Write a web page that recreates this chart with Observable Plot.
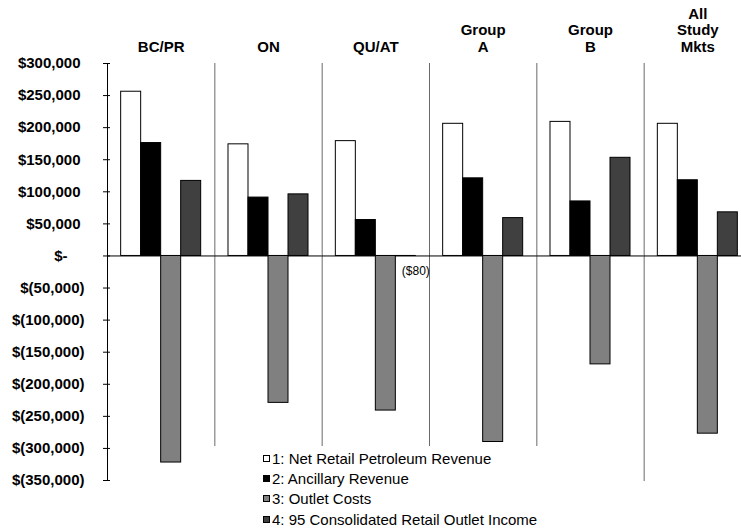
<!DOCTYPE html>
<html>
<head>
<meta charset="utf-8">
<script src="https://cdn.jsdelivr.net/npm/d3@7"></script>
<script src="https://cdn.jsdelivr.net/npm/@observablehq/plot@0.6"></script>
<style>
  body { margin: 0; background: #fff; }
  #chart { position: relative; width: 741px; height: 529px; overflow: hidden;
           font-family: "Liberation Sans", Arial, sans-serif; }
  #legend { position: absolute; left: 205px; top: 446px; width: 433px; height: 83px;
            background: #fff; padding-top: 2px; box-sizing: border-box; }
  .item { display: flex; align-items: center; height: 20.4px; padding-left: 58px;
          font-size: 15px; color: #000; white-space: nowrap; }
  .swatch { width: 5px; height: 5px; border: 1px solid #000; margin-right: 2px; flex: none; }
</style>
</head>
<body>
<div id="chart"></div>
<script>
// Market groups across the top (line breaks as printed)
const groups = ["BC/PR", "ON", "QU/AT", "Group\nA", "Group\nB", "All\nStudy\nMkts"];

// The four components per market
const series = [
  "1: Net Retail Petroleum Revenue",
  "2: Ancillary Revenue",
  "3: Outlet Costs",
  "4: 95 Consolidated Retail Outlet Income"
];
const seriesColors = ["#ffffff", "#000000", "#808080", "#404040"];

// Dollars per outlet, one value per group
const netPetroleumRevenue = [256000, 174000, 179000, 206000, 209000, 206000];
const ancillaryRevenue    = [176000,  91000,  56000, 121000,  85000, 118000];
const outletCosts         = [-322000, -229000, -241000, -290000, -169000, -277000];
const outletIncome        = [117000,  96000,    -80,  59000, 153000,  68000];

// Value axis ticks
const yTicks = [-350000, -300000, -250000, -200000, -150000, -100000, -50000,
                0, 50000, 100000, 150000, 200000, 250000, 300000];

const seriesValues = [netPetroleumRevenue, ancillaryRevenue, outletCosts, outletIncome];
const table = groups.flatMap((g, i) =>
  series.map((s, j) => ({group: g, series: s, value: seriesValues[j][i]})));

const num = d3.format(",");
// Accounting-style dollar formats
const axisFmt = v => v === 0 ? "$-" : v < 0 ? `$(${num(-v)})` : `$${num(v)}`;
const labelFmt = v => v < 0 ? `($${num(-v)})` : `$${num(v)}`;

const tickText = {tickSize: 0, tickPadding: 0, tickFormat: axisFmt, fontSize: 15,
                  fontWeight: "bold", label: null};

const plot = Plot.plot({
  width: 741,
  height: 529,
  marginTop: 63,
  marginBottom: 49,
  marginLeft: 107,
  marginRight: -10,
  style: {fontFamily: "'Liberation Sans', Arial, sans-serif", background: "white", color: "black"},
  fx: {domain: groups, padding: 0, round: false},
  x: {domain: series, paddingInner: 0, paddingOuter: 0.683, round: false, axis: null},
  y: {domain: [-350000, 300000]},
  color: {domain: series, range: seriesColors},
  marks: [
    // group dividers
    Plot.frame({anchor: "left", stroke: "#6a6a6a"}),
    Plot.ruleY([0], {stroke: "black"}),
    Plot.barY(table, {fx: "group", x: "series", y: "value", fill: "series",
                      stroke: "black", strokeWidth: 1}),
    // value label for the near-zero bar
    Plot.text(table.filter(d => Math.abs(d.value) < 1000), {
      fx: "group", x: "series", y: "value", text: d => labelFmt(d.value),
      dx: 10, dy: 15, fontSize: 12, fill: "black"
    }),
    // value axis line and crossing ticks
    Plot.frame({anchor: "left", facetAnchor: "left", stroke: "black"}),
    Plot.axisY(yTicks, {tickSize: 7, dx: 3, fill: "none", stroke: "black", label: null}),
    Plot.axisY(yTicks.filter(v => v > 0), {...tickText, dx: -27}),
    Plot.axisY(yTicks.filter(v => v === 0), {...tickText, dx: -40}),
    Plot.axisY(yTicks.filter(v => v < 0), {...tickText, dx: -23}),
    Plot.axisFx({anchor: "top", tickSize: 0, tickPadding: 12, fontSize: 15,
                 fontWeight: "bold", lineHeight: 1.07, label: null})
  ]
});

const chart = document.getElementById("chart");
chart.append(plot);

const legend = document.createElement("div");
legend.id = "legend";
series.forEach((s, i) => {
  const item = document.createElement("div");
  item.className = "item";
  const sw = document.createElement("span");
  sw.className = "swatch";
  sw.style.background = seriesColors[i];
  const label = document.createElement("span");
  label.textContent = s;
  item.append(sw, label);
  legend.append(item);
});
chart.append(legend);
</script>
</body>
</html>
